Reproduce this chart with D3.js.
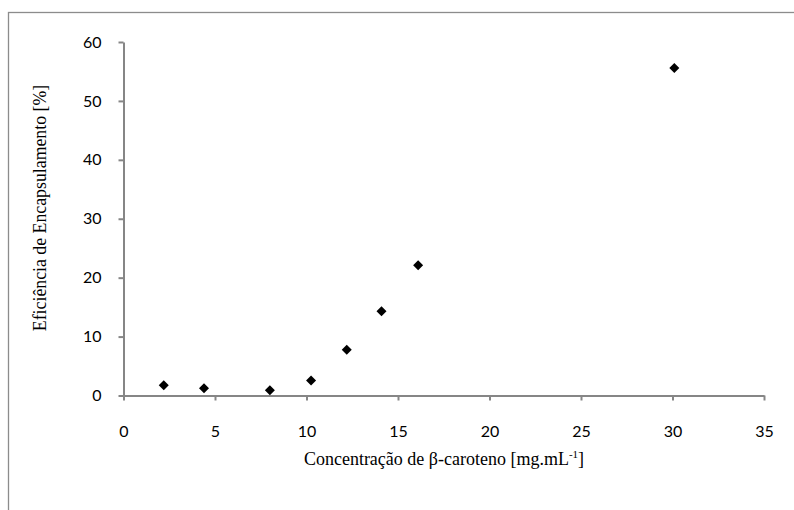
<!DOCTYPE html>
<html>
<head>
<meta charset="utf-8">
<script src="https://cdn.jsdelivr.net/npm/d3@7"></script>
<style>
  body { margin: 0; background: #fff; }
</style>
</head>
<body>
<svg id="chart" width="794" height="510"></svg>
<script>
// data
const concentration = [2.2, 4.4, 8.0, 10.25, 12.2, 14.1, 16.1, 30.1];
const efficiency = [1.75, 1.25, 0.9, 2.55, 7.75, 14.3, 22.1, 55.6];
const xTicks = [0, 5, 10, 15, 20, 25, 30, 35];
const yTicks = [0, 10, 20, 30, 40, 50, 60];

const svg = d3.select("#chart");
const margin = { left: 123.5, top: 42 };

// chart frame (runs past the picture edge)
svg.append("rect")
  .attr("x", 8.5).attr("y", 12.5)
  .attr("width", 820).attr("height", 520)
  .attr("fill", "none")
  .attr("stroke", "#8c8c8c")
  .attr("stroke-width", 1.3);

const x = d3.scaleLinear().domain([0, 35]).range([margin.left, 764]);
const y = d3.scaleLinear().domain([0, 60]).range([395.5, margin.top]);

const axisColor = "#868686";

const xAxis = svg.append("g")
  .attr("transform", `translate(0,${y(0)})`)
  .call(d3.axisBottom(x).tickValues(xTicks).tickSize(5).tickPadding(25).tickSizeOuter(0));

const yAxis = svg.append("g")
  .attr("transform", `translate(${x(0)},0)`)
  .call(d3.axisLeft(y).tickValues(yTicks).tickSize(5).tickPadding(17).tickSizeOuter(0));

[xAxis, yAxis].forEach(g => {
  g.select(".domain").attr("stroke", axisColor).attr("stroke-width", 2);
  g.selectAll(".tick line").attr("stroke", axisColor).attr("stroke-width", 2);
  g.selectAll(".tick text")
    .attr("fill", "#000")
    .attr("font-family", "Lato, 'Open Sans', sans-serif")
    .attr("font-size", 16);
});

// points (diamonds)
svg.append("g")
  .selectAll("path")
  .data(concentration)
  .join("path")
  .attr("transform", (d, i) => `translate(${x(d)},${y(efficiency[i])}) rotate(45)`)
  .attr("d", d3.symbol().type(d3.symbolSquare).size(50))
  .attr("fill", "#000");

// axis titles
const xTitle = svg.append("text")
  .attr("x", 444).attr("y", 465)
  .attr("text-anchor", "middle")
  .attr("font-family", "'Liberation Serif', 'Times New Roman', serif")
  .attr("font-size", 18)
  .attr("fill", "#000");
xTitle.append("tspan").text("Concentração de β-caroteno [mg.mL");
xTitle.append("tspan").attr("dy", -7).attr("font-size", 11).text("-1");
xTitle.append("tspan").attr("dy", 7).text("]");

svg.append("text")
  .attr("transform", "translate(46,208) rotate(-90)")
  .attr("text-anchor", "middle")
  .attr("font-family", "'Liberation Serif', 'Times New Roman', serif")
  .attr("font-size", 17.8)
  .attr("fill", "#000")
  .text("Eficiência de Encapsulamento [%]");
</script>
</body>
</html>
